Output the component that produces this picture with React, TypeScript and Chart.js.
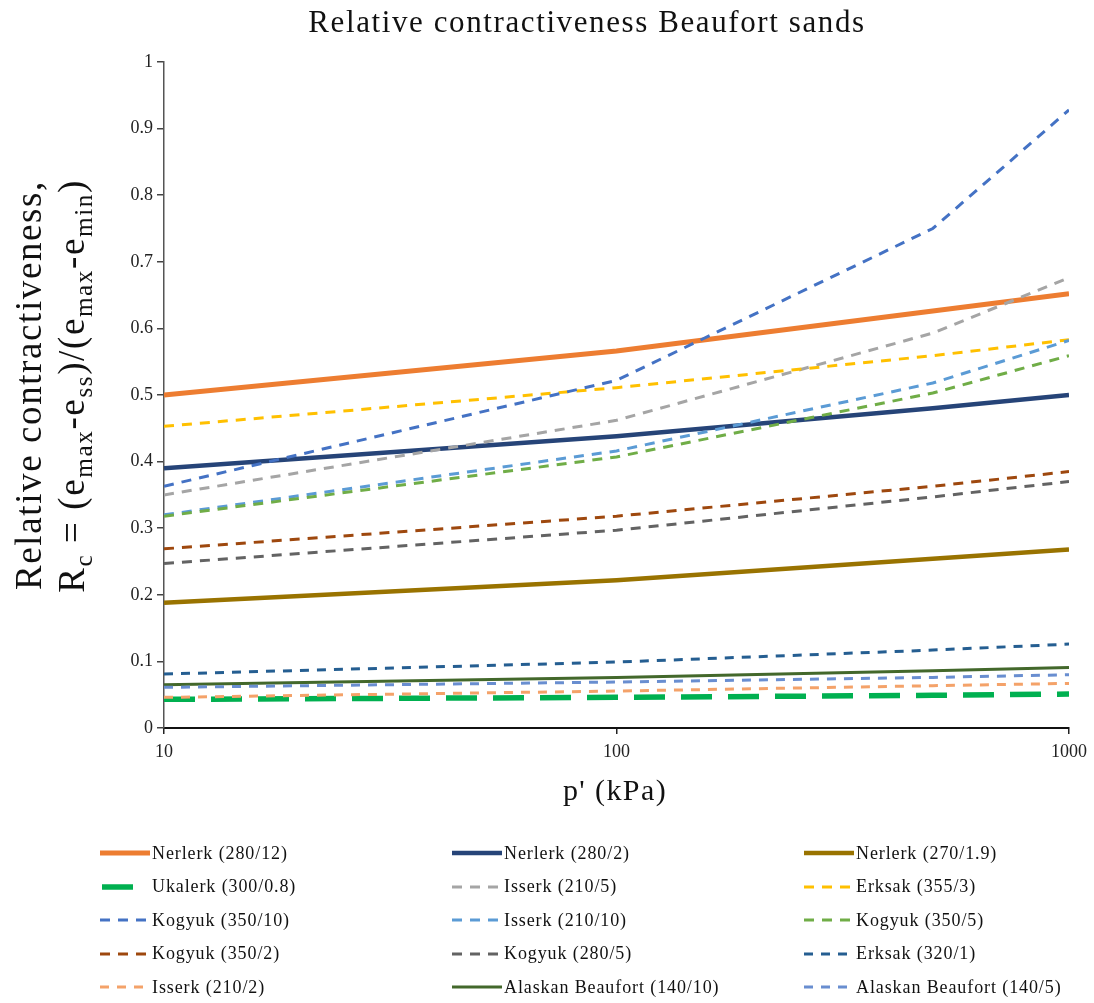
import React, { useEffect, useRef } from "react";
import { Chart, registerables } from "chart.js";

Chart.register(...registerables);

// ---- data ----
const pressures = [10, 100, 500, 1000];
const yTicks = [0, 0.1, 0.2, 0.3, 0.4, 0.5, 0.6, 0.7, 0.8, 0.9, 1];
const xTicks = [10, 100, 1000];

const seriesNames = [
  "Nerlerk (280/12)",
  "Nerlerk (280/2)",
  "Nerlerk (270/1.9)",
  "Ukalerk (300/0.8)",
  "Isserk (210/5)",
  "Erksak (355/3)",
  "Kogyuk (350/10)",
  "Isserk (210/10)",
  "Kogyuk (350/5)",
  "Kogyuk (350/2)",
  "Kogyuk (280/5)",
  "Erksak (320/1)",
  "Isserk (210/2)",
  "Alaskan Beaufort (140/10)",
  "Alaskan Beaufort (140/5)",
];

const nerlerk280_12 = [0.5, 0.566, 0.626, 0.652];
const nerlerk280_2 = [0.39, 0.438, 0.48, 0.5];
const nerlerk270_19 = [0.188, 0.222, 0.254, 0.268];
const ukalerk300_08 = [0.043, 0.046, 0.049, 0.051];
const isserk210_5 = [0.35, 0.462, 0.593, 0.676];
const erksak355_3 = [0.453, 0.511, 0.559, 0.583];
const kogyuk350_10 = [0.363, 0.522, 0.75, 0.928];
const isserk210_10 = [0.32, 0.416, 0.518, 0.582];
const kogyuk350_5 = [0.318, 0.407, 0.503, 0.559];
const kogyuk350_2 = [0.269, 0.318, 0.363, 0.385];
const kogyuk280_5 = [0.247, 0.297, 0.347, 0.37];
const erksak320_1 = [0.081, 0.099, 0.117, 0.126];
const isserk210_2 = [0.046, 0.0555, 0.0635, 0.067];
const alaskan140_10 = [0.065, 0.076, 0.086, 0.091];
const alaskan140_5 = [0.061, 0.069, 0.076, 0.08];

const seriesValues = [
  nerlerk280_12,
  nerlerk280_2,
  nerlerk270_19,
  ukalerk300_08,
  isserk210_5,
  erksak355_3,
  kogyuk350_10,
  isserk210_10,
  kogyuk350_5,
  kogyuk350_2,
  kogyuk280_5,
  erksak320_1,
  isserk210_2,
  alaskan140_10,
  alaskan140_5,
];

// ---- styles ----
const seriesStyles: { color: string; width: number; dash: number[] }[] = [
  { color: "#ED7D31", width: 5, dash: [] },
  { color: "#264478", width: 4.5, dash: [] },
  { color: "#997300", width: 4.5, dash: [] },
  { color: "#00B050", width: 5.5, dash: [31, 16] },
  { color: "#A5A5A5", width: 3, dash: [10, 8] },
  { color: "#FFC000", width: 3, dash: [10, 8] },
  { color: "#4472C4", width: 3, dash: [10, 8] },
  { color: "#5B9BD5", width: 3, dash: [10, 8] },
  { color: "#70AD47", width: 3, dash: [10, 8] },
  { color: "#9E480E", width: 3, dash: [10, 8] },
  { color: "#636363", width: 3, dash: [10, 8] },
  { color: "#255E91", width: 3, dash: [9, 8] },
  { color: "#F4A269", width: 3, dash: [9, 8] },
  { color: "#43682B", width: 3, dash: [] },
  { color: "#698ED0", width: 3, dash: [9, 8] },
];

const FONT = "'Liberation Serif', 'Times New Roman', serif";

export default function App() {
  const ref = useRef<HTMLCanvasElement>(null);

  useEffect(() => {
    if (!ref.current) return;
    const n = seriesValues.length;
    const chart = new Chart(ref.current, {
      type: "line",
      data: {
        datasets: seriesValues.map((vals, i) => ({
          label: seriesNames[i],
          data: pressures.map((p, j) => ({ x: p, y: vals[j] })),
          borderColor: seriesStyles[i].color,
          backgroundColor: seriesStyles[i].color,
          borderWidth: seriesStyles[i].width,
          borderDash: seriesStyles[i].dash,
          borderCapStyle: "butt",
          pointRadius: 0,
          pointHoverRadius: 0,
          fill: false,
          tension: 0,
          order: n - i,
        })),
      },
      options: {
        responsive: false,
        animation: false,
        events: [],
        layout: { padding: { top: 62, right: 25, bottom: 245, left: 0 } },
        plugins: {
          legend: { display: false },
          title: { display: false },
          tooltip: { enabled: false },
        },
        scales: {
          x: {
            type: "logarithmic",
            min: 10,
            max: 1000,
            afterBuildTicks: (axis: any) => {
              axis.ticks = xTicks.map((v) => ({ value: v }));
            },
            afterFit: (axis: any) => {
              axis.height = 30;
            },
            ticks: {
              autoSkip: false,
              maxRotation: 0,
              padding: 7,
              color: "#222",
              font: { family: FONT, size: 18 },
              callback: (v: any) => String(v),
            },
            grid: {
              display: true,
              drawOnChartArea: false,
              drawTicks: true,
              tickLength: 6,
              color: "#222",
              lineWidth: 1.5,
            },
            border: { display: true, color: "#111", width: 2 },
          },
          y: {
            type: "linear",
            min: 0,
            max: 1,
            afterBuildTicks: (axis: any) => {
              axis.ticks = yTicks.map((v) => ({ value: v }));
            },
            afterFit: (axis: any) => {
              axis.width = 164;
            },
            ticks: {
              padding: 4,
              color: "#222",
              font: { family: FONT, size: 18 },
              callback: (v: any) => String(Math.round(Number(v) * 10) / 10),
            },
            grid: {
              display: true,
              drawOnChartArea: false,
              drawTicks: true,
              tickLength: 7,
              color: "#444",
              lineWidth: 1.5,
            },
            border: { display: true, color: "#555", width: 1.5 },
          },
        },
      },
    });
    return () => chart.destroy();
  }, []);

  const legendCols = [100, 452, 804];
  const legendRow0 = 853;
  const legendRowStep = 33.5;
  const subStyle = { fontSize: "0.68em", lineHeight: 0 };

  return (
    <div
      style={{
        position: "absolute",
        left: 0,
        top: 0,
        width: 1094,
        height: 1003,
        background: "#fff",
        fontFamily: FONT,
        color: "#111",
        overflow: "hidden",
      }}
    >
      <canvas
        ref={ref}
        width={1094}
        height={1003}
        style={{ position: "absolute", left: 0, top: 0, display: "block" }}
      />
      {/* title */}
      <div
        style={{
          position: "absolute",
          left: 587,
          top: 6,
          transform: "translateX(-50%)",
          fontSize: 31,
          lineHeight: "31px",
          letterSpacing: "1.6px",
          whiteSpace: "nowrap",
        }}
      >
        Relative contractiveness Beaufort sands
      </div>
      {/* x title */}
      <div
        style={{
          position: "absolute",
          left: 615,
          top: 775,
          transform: "translateX(-50%)",
          fontSize: 30,
          lineHeight: "30px",
          letterSpacing: "1.4px",
          whiteSpace: "nowrap",
        }}
      >
        p' (kPa)
      </div>
      {/* y title line 1 */}
      <div
        style={{
          position: "absolute",
          left: 28,
          top: 385,
          transform: "translate(-50%, -50%) rotate(-90deg)",
          fontSize: 37,
          lineHeight: "37px",
          letterSpacing: "1.6px",
          whiteSpace: "nowrap",
        }}
      >
        Relative contractiveness,
      </div>
      {/* y title line 2 */}
      <div
        style={{
          position: "absolute",
          left: 71,
          top: 386,
          transform: "translate(-50%, -50%) rotate(-90deg)",
          fontSize: 37,
          lineHeight: "37px",
          letterSpacing: "1.6px",
          whiteSpace: "nowrap",
        }}
      >
        R<sub style={subStyle}>c</sub> = (e<sub style={subStyle}>max</sub>-e
        <sub style={subStyle}>ss</sub>)/(e<sub style={subStyle}>max</sub>-e
        <sub style={subStyle}>min</sub>)
      </div>
      {/* legend */}
      {seriesNames.map((name, i) => {
        const col = i % 3;
        const row = Math.floor(i / 3);
        const st = seriesStyles[i];
        const cy = legendRow0 + row * legendRowStep;
        const longDash = st.dash.length > 0 && st.dash[0] > 20;
        return (
          <div
            key={name}
            style={{
              position: "absolute",
              left: legendCols[col],
              top: cy - 12,
              height: 24,
              display: "flex",
              alignItems: "center",
              whiteSpace: "nowrap",
              fontSize: 18,
              letterSpacing: "0.9px",
            }}
          >
            <svg width={50} height={12} style={{ display: "block", flex: "none" }}>
              <line
                x1={longDash ? 2 : 0}
                y1={6}
                x2={longDash ? 2 + st.dash[0] : 50}
                y2={6}
                stroke={st.color}
                strokeWidth={st.width}
                strokeDasharray={
                  st.dash.length && !longDash ? st.dash.join(" ") : undefined
                }
              />
            </svg>
            <span style={{ marginLeft: 2 }}>{name}</span>
          </div>
        );
      })}
    </div>
  );
}
